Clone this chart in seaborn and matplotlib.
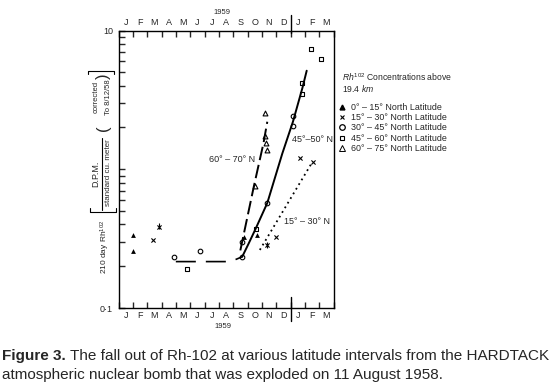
import numpy as np
import matplotlib
matplotlib.use("Agg")
import matplotlib.pyplot as plt
import matplotlib.ticker as mticker
from matplotlib.lines import Line2D
import seaborn as sns

# months along the time axis, x measured in months from the left edge
month_labels = ["J", "F", "M", "A", "M", "J", "J", "A", "S", "O", "N", "D", "J", "F", "M"]

# 210 day Rh-102, D.P.M. per standard cu. meter
lat_0_15_x = [1.0, 1.0, 8.74, 9.63]
lat_0_15_y = [0.336, 0.259, 0.327, 0.336]

lat_15_30_x = [2.44, 2.82, 10.38, 10.96, 12.64, 13.55]
lat_15_30_y = [0.309, 0.385, 0.284, 0.325, 1.205, 1.128]
bar_15_30_x = [2.82, 10.38]
bar_15_30_lo = [0.37, 0.27]
bar_15_30_hi = [0.41, 0.30]

lat_30_45_x = [3.84, 5.66, 8.63, 8.63, 10.38, 12.17, 12.17]
lat_30_45_y = [0.234, 0.258, 0.234, 0.301, 0.571, 2.40, 2.05]

lat_45_60_x = [4.78, 9.56, 12.83, 12.83, 13.46, 14.16]
lat_45_60_y = [0.190, 0.371, 3.49, 4.20, 7.32, 6.23]

lat_60_75_x = [9.49, 10.19, 10.19, 10.26, 10.38]
lat_60_75_y = [0.757, 2.53, 1.74, 1.54, 1.38]

# hand drawn trend lines
base_x = [4.0, 7.6, 8.1, 8.63]
base_y = [0.216, 0.216, 0.222, 0.234]
curve_45_50_x = [8.63, 9.07, 9.56, 10.38, 11.43, 12.17, 12.83, 13.13]
curve_45_50_y = [0.234, 0.29, 0.371, 0.571, 1.30, 2.20, 3.85, 5.13]
curve_60_70_x = [8.50, 9.44, 10.12, 10.38]
curve_60_70_y = [0.26, 0.75, 1.55, 2.20]
curve_15_30_x = [9.86, 13.53]
curve_15_30_y = [0.262, 1.13]

legend_labels = ["0° – 15° North Latitude", "15° – 30° North Latitude",
                 "30° – 45° North Latitude", "45° – 60° North Latitude",
                 "60° – 75° North Latitude"]

W, H = 553, 387


def fx(px):
    return px / W


def fy(py):
    return 1 - py / H


sns.set_style("white")
plt.rcParams["font.family"] = ["Liberation Sans", "DejaVu Sans"]
plt.rcParams["mathtext.fontset"] = "custom"
plt.rcParams["mathtext.rm"] = "Liberation Sans"
plt.rcParams["mathtext.it"] = "Liberation Sans:italic"

fig = plt.figure(figsize=(W / 100, H / 100), dpi=100)
fig.patch.set_facecolor("white")
ax = fig.add_axes([fx(118.5), fy(308), (333.5 - 118.5) / W, (308 - 30.5) / H])
ax.set_yscale("log")

# trend lines
sns.lineplot(x=base_x, y=base_y, ax=ax, color="k", lw=1.2,
             linestyle=(0, (12, 6)), estimator=None, sort=False)
sns.lineplot(x=curve_45_50_x, y=curve_45_50_y, ax=ax, color="k", lw=1.4,
             estimator=None, sort=False)
sns.lineplot(x=curve_60_70_x, y=curve_60_70_y, ax=ax, color="k", lw=1.4,
             linestyle=(0, (7, 2.5)), estimator=None, sort=False)
sns.lineplot(x=curve_15_30_x, y=curve_15_30_y, ax=ax, color="k", lw=1.3,
             linestyle=(0, (1, 2)), estimator=None, sort=False)

# points
sns.scatterplot(x=lat_0_15_x, y=lat_0_15_y, ax=ax, marker="^", color="k", s=12, linewidth=0)
sns.scatterplot(x=lat_15_30_x, y=lat_15_30_y, ax=ax, marker="x", color="k", s=9, linewidth=0.8)
ax.vlines(bar_15_30_x, bar_15_30_lo, bar_15_30_hi, color="k", lw=0.8)
sns.scatterplot(x=lat_30_45_x, y=lat_30_45_y, ax=ax, marker="o", facecolor="white",
                edgecolor="k", s=11, linewidth=0.8)
sns.scatterplot(x=lat_45_60_x, y=lat_45_60_y, ax=ax, marker="s", facecolor="white",
                edgecolor="k", s=10, linewidth=0.8)
sns.scatterplot(x=lat_60_75_x, y=lat_60_75_y, ax=ax, marker="^", facecolor="white",
                edgecolor="k", s=12, linewidth=0.8)

# curve labels
ax.text(9.55, 1.17, "60° – 70° N", fontsize=6.5, ha="right", va="center")
ax.text(12.1, 1.65, "45°–50° N", fontsize=6.5, ha="left", va="center")
ax.text(11.55, 0.42, "15° – 30° N", fontsize=6.5, ha="left", va="center")

# axes styling
ax.set_xlim(0, 15)
ax.set_ylim(0.1, 10)
for s in ax.spines.values():
    s.set_linewidth(1.0)
    s.set_color("k")

ax.set_xticks(np.arange(0, 16))
ax.set_xticklabels([])
ax.set_xticks(np.arange(0.5, 15), labels=month_labels, minor=True)
ax.tick_params(axis="x", which="major", direction="in", length=4, width=1,
               top=True, bottom=True, labelbottom=False)
ax.tick_params(axis="x", which="minor", length=0, top=False, bottom=False,
               labeltop=True, labelbottom=True, labelsize=6.5, pad=2.5)

ax.yaxis.set_major_locator(mticker.FixedLocator([0.1, 1, 10]))
ax.yaxis.set_major_formatter(mticker.FixedFormatter(["0·1", "", "10"]))
ax.yaxis.set_minor_locator(mticker.LogLocator(base=10, subs=np.arange(2, 10)))
ax.yaxis.set_minor_formatter(mticker.NullFormatter())
ax.tick_params(axis="y", which="both", direction="in", left=True, right=False,
               length=4, width=1, labelsize=6.5, pad=4)
ax.set_xlabel("")
ax.set_ylabel("")

# year divider D | J
ax.plot([12, 12], [1.055, 0.99], color="k", lw=1.0,
        transform=ax.get_xaxis_transform(), clip_on=False)
ax.plot([12, 12], [0.04, -0.048], color="k", lw=1.0,
        transform=ax.get_xaxis_transform(), clip_on=False)

fig.text(fx(222), fy(12), "1959", fontsize=5.5, ha="center", va="center")
fig.text(fx(223), fy(327), "1959", fontsize=5.5, ha="center", va="center")

# composite y label
fig.text(fx(105), fy(247), "210 day Rh$^{102}$", fontsize=6, rotation=90, ha="center", va="center")
fig.text(fx(96), fy(174), "D.P.M.", fontsize=6.5, rotation=90, ha="center", va="center")
fig.text(fx(108.5), fy(173), "standard cu. meter", fontsize=5.8, rotation=90, ha="center", va="center")
fig.add_artist(Line2D([fx(102), fx(102)], [fy(138), fy(210)], color="k", lw=0.8))
fig.text(fx(103), fy(128), "(", fontsize=12, rotation=90, ha="center", va="center")
fig.text(fx(103), fy(76), ")", fontsize=12, rotation=90, ha="center", va="center")
fig.text(fx(96.5), fy(97), "corrected", fontsize=5.5, rotation=90, ha="center", va="center")
fig.text(fx(109), fy(97), "To 8/12/58", fontsize=5.5, rotation=90, ha="center", va="center")
fig.add_artist(Line2D([fx(88), fx(88), fx(114), fx(114)],
                      [fy(74), fy(70.5), fy(70.5), fy(74)], color="k", lw=0.8))
fig.add_artist(Line2D([fx(90), fx(90), fx(116), fx(116)],
                      [fy(208), fy(211.7), fy(211.7), fy(208)], color="k", lw=0.8))

# legend
fig.text(fx(342), fy(77), "$Rh^{102}$ Concentrations above", fontsize=6.2, ha="left", va="center")
fig.text(fx(342), fy(89), "19.4 $km$", fontsize=6.2, ha="left", va="center")
handles = [
    Line2D([], [], ls="", marker="^", color="k", ms=3.5),
    Line2D([], [], ls="", marker="x", color="k", ms=3, mew=0.8),
    Line2D([], [], ls="", marker="o", mfc="white", mec="k", ms=4, mew=0.9),
    Line2D([], [], ls="", marker="s", mfc="white", mec="k", ms=3.5, mew=0.8),
    Line2D([], [], ls="", marker="^", mfc="white", mec="k", ms=3.8, mew=0.7),
]
fig.legend(handles, legend_labels, loc="upper left", bbox_to_anchor=(fx(338), fy(103)),
           frameon=False, fontsize=6.4, handlelength=1.0, handletextpad=0.5,
           labelspacing=0.14, borderpad=0, borderaxespad=0)

# caption: bold lead-in followed by plain text on the same line
cap_size = 11
lead = fig.text(fx(2), fy(356), "Figure 3.", fontsize=cap_size, fontweight="bold",
                ha="left", va="center")
renderer = fig.canvas.get_renderer()
lead_box = lead.get_window_extent(renderer)
fig.text(lead_box.x1 / fig.bbox.width, fy(356),
         " The fall out of Rh-102 at various latitude intervals from the HARDTACK",
         fontsize=cap_size, ha="left", va="center")
fig.text(fx(2), fy(375), "atmospheric nuclear bomb that was exploded on 11 August 1958.",
         fontsize=cap_size, ha="left", va="center")

fig.savefig("out.png", dpi=100, facecolor="white")
